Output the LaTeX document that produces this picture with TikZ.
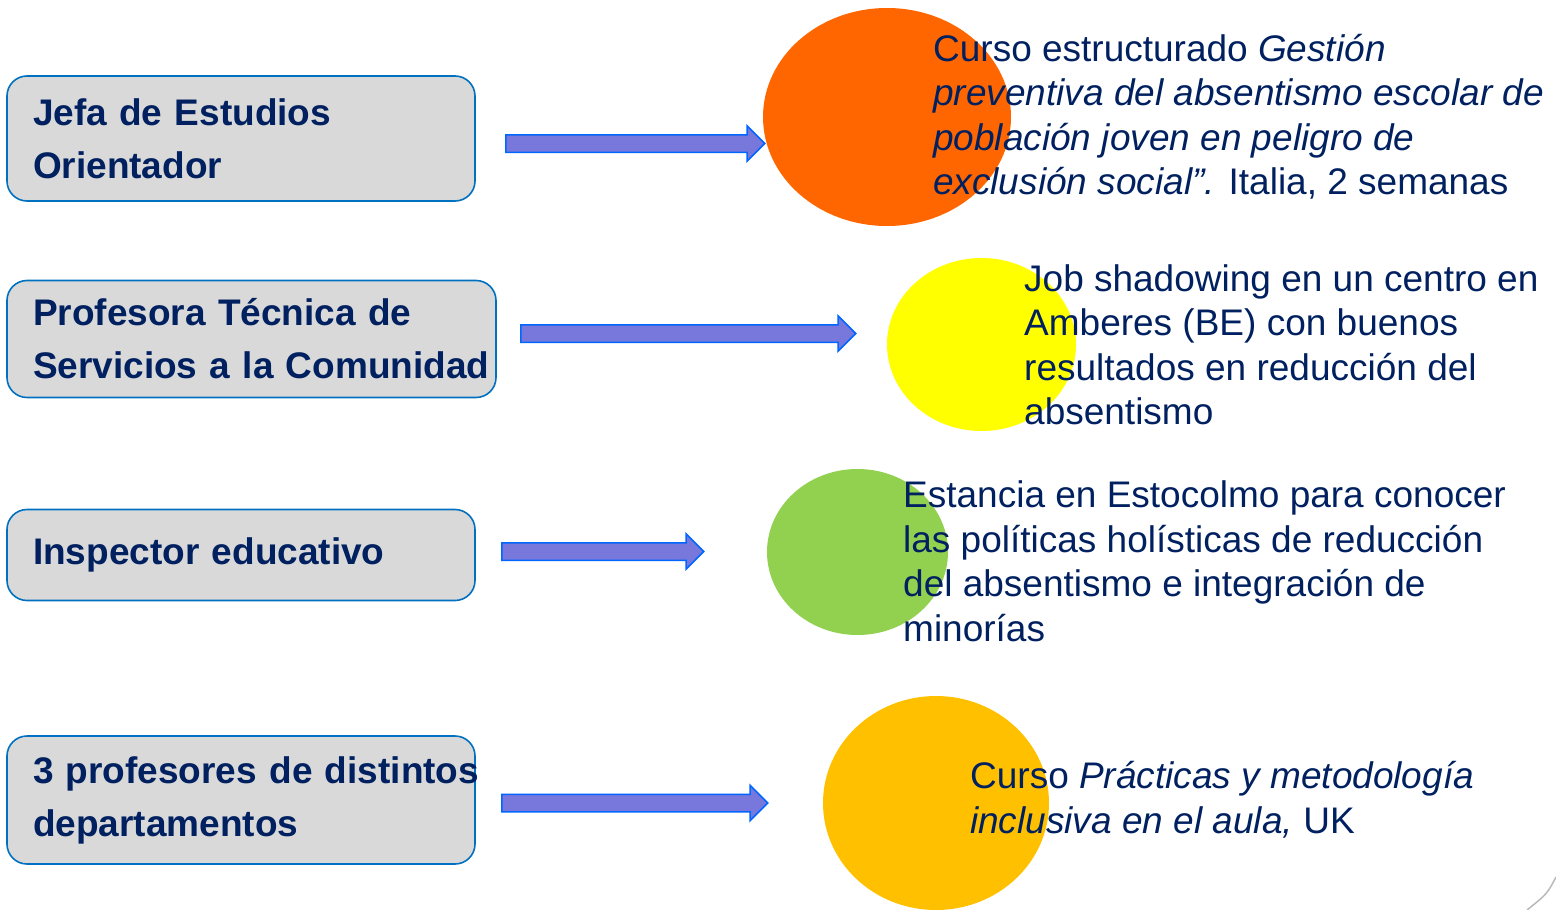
\documentclass[tikz,border=0pt]{standalone}
\usepackage{fontspec}
\setmainfont{Liberation Sans}
\usetikzlibrary{shapes.geometric,shapes.arrows}
\definecolor{navy}{HTML}{002060}
\definecolor{boxfill}{HTML}{D9D9D9}
\definecolor{boxborder}{HTML}{0070C0}
\definecolor{arrowfill}{HTML}{7878DC}
\definecolor{arrowborder}{HTML}{0066FF}
\definecolor{corange}{HTML}{FF6600}
\definecolor{cyellow}{HTML}{FFFF00}
\definecolor{cgreen}{HTML}{92D050}
\definecolor{cgold}{HTML}{FFC000}
\begin{document}
\begin{tikzpicture}[x=1pt,y=-1pt,
  rolebox/.style={draw=boxborder, line width=1.6pt, fill=boxfill, rounded corners=20pt,
    inner xsep=26pt, inner ysep=0pt, align=left, text=navy,
    font=\fontsize{37}{53}\selectfont\bfseries},
  blockarrow/.style={single arrow, draw=arrowborder, fill=arrowfill, line width=1.5pt,
    inner xsep=0pt, inner ysep=8pt, single arrow head extend=9pt, anchor=tail},
  blob/.style={ellipse, inner sep=0pt, draw=none},
  desc/.style={align=left, inner sep=0pt, text=navy,
    font=\fontsize{37}{44.5}\selectfont, anchor=base west}]
\useasboundingbox (0,0) rectangle (1556,910);

% left boxes
\node[rolebox, text width=416pt, minimum height=125pt] (b1) at (241,138.5)
  {\mbox{Jefa de Estudios}\\\mbox{Orientador}};
\node[rolebox, text width=437pt, minimum height=117pt] (b2) at (251.5,339)
  {\mbox{Profesora Técnica de}\\\mbox{Servicios a la Comunidad}};
\node[rolebox, text width=416pt, minimum height=91pt] (b3) at (241,555)
  {\mbox{Inspector educativo}};
\node[rolebox, text width=416pt, minimum height=128pt] (b4) at (241,800)
  {\mbox{3 profesores de distintos}\\\mbox{departamentos}};

% block arrows
\node[blockarrow, minimum height=259pt] (a1) at (505,143.5) {};
\node[blockarrow, minimum height=335pt] (a2) at (520,333.5) {};
\node[blockarrow, minimum height=202pt] (a3) at (501,551.5) {};
\node[blockarrow, minimum height=266pt] (a4) at (501,803) {};

% circles
\node[blob, fill=corange, minimum width=248pt, minimum height=218pt] (c1) at (887,117) {};
\node[blob, fill=cyellow, minimum width=189pt, minimum height=173pt] (c2) at (981.5,344.5) {};
\node[blob, fill=cgreen, minimum width=181pt, minimum height=166pt] (c3) at (857.5,552) {};
\node[blob, fill=cgold, minimum width=226pt, minimum height=214pt] (c4) at (936,803) {};

% descriptions (anchored at the baseline of the last line)
\node[desc] (r1) at (933,194.5)
  {Curso estructurado \textit{Gestión}\\
   \textit{preventiva del absentismo escolar de}\\
   \textit{población joven en peligro de}\\
   \textit{exclusión social”.} Italia, 2 semanas};
\node[desc] (r2) at (1024,424.5)
  {Job shadowing en un centro en\\
   Amberes (BE) con buenos\\
   resultados en reducción del\\
   absentismo};
\node[desc] (r3) at (903,641)
  {Estancia en Estocolmo para conocer\\
   las políticas holísticas de reducción\\
   del absentismo e integración de\\
   minorías};
\node[desc] (r4) at (970,833)
  {Curso \textit{Prácticas y metodología}\\
   \textit{inclusiva en el aula,} UK};

% page curl hint
\coordinate (k1) at (1556,877);
\coordinate (k2) at (1527,910);
\draw[gray!55, line width=1.5pt] (k1) .. controls (1547,894) .. (k2);
\end{tikzpicture}
\end{document}
